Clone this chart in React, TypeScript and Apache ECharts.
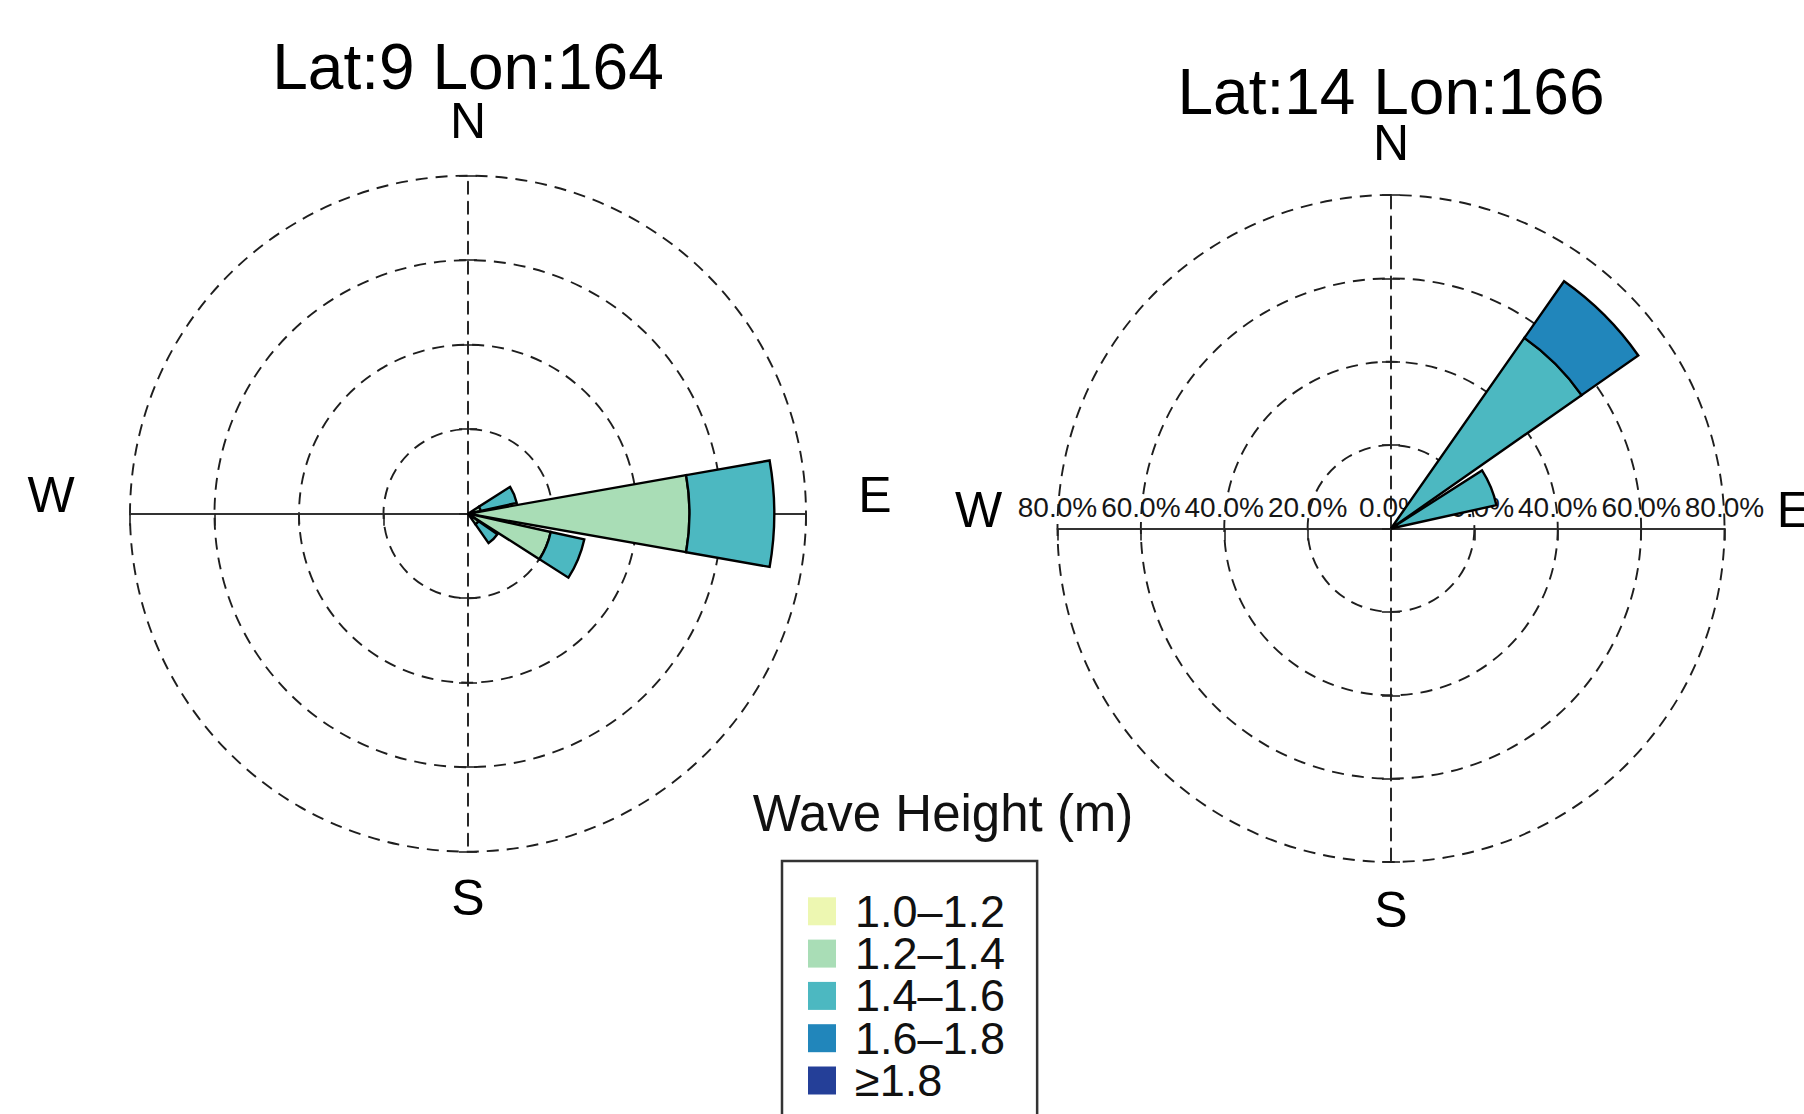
import React, { useEffect, useRef } from 'react';
import * as echarts from 'echarts';

// ---------------- data ----------------
const directions = ['N', 'NNE', 'NE', 'ENE', 'E', 'ESE', 'SE', 'SSE', 'S', 'SSW', 'SW', 'WSW', 'W', 'WNW', 'NW', 'NNW'];
const waveClasses = ['1.0\u20131.2', '1.2\u20131.4', '1.4\u20131.6', '1.6\u20131.8', '\u22651.8'];
const classColors = ['#EDF7B1', '#A9DDB6', '#4CB8C1', '#2186BB', '#243F98'];

const site1Title = 'Lat:9 Lon:164';
const site2Title = 'Lat:14 Lon:166';

// percent frequency per direction (N, NNE, ... NNW), one array per wave-height class
const site1H10 = [0, 0, 0, 0, 0, 0, 0, 0, 0, 0, 0, 0, 0, 0, 0, 0];
const site1H12 = [0, 0, 0, 2.5, 42.6, 16.3, 2.5, 0, 0, 0, 0, 0, 0, 0, 0, 0];
const site1H14 = [0, 0, 0, 7.1, 16.3, 6.6, 4.4, 0, 0, 0, 0, 0, 0, 0, 0, 0];
const site1H16 = [0, 0, 0, 0, 0, 0, 0, 0, 0, 0, 0, 0, 0, 0, 0, 0];
const site1H18 = [0, 0, 0, 0, 0, 0, 0, 0, 0, 0, 0, 0, 0, 0, 0, 0];

const site2H10 = [0, 0, 0, 0, 0, 0, 0, 0, 0, 0, 0, 0, 0, 0, 0, 0];
const site2H12 = [0, 0, 0, 0, 0, 0, 0, 0, 0, 0, 0, 0, 0, 0, 0, 0];
const site2H14 = [0, 0, 55.8, 25.9, 0, 0, 0, 0, 0, 0, 0, 0, 0, 0, 0, 0];
const site2H16 = [0, 0, 16.6, 0, 0, 0, 0, 0, 0, 0, 0, 0, 0, 0, 0, 0];
const site2H18 = [0, 0, 0, 0, 0, 0, 0, 0, 0, 0, 0, 0, 0, 0, 0, 0];

// radial scale (percent) and ring count
const site1Max = 65;
const site2Max = 80;
const ringCount = 4;

// ---------------- layout ----------------
const FONT = '"Liberation Sans", Arial, Helvetica, sans-serif';
const site1Center = [468, 513.7];
const site1Radius = 338;
const site2Center = [1391, 528.5];
const site2Radius = 333.5;

const dashed = [12, 8];
const gridColor = '#1e1e1e';
const pctFont = 28;

function buildOption() {
  const polar: any[] = [];
  const angleAxis: any[] = [];
  const radiusAxis: any[] = [];
  const series: any[] = [];
  const graphic: any[] = [];

  const addPolar = (center: number[], radius: number, aa: any, ra: any) => {
    const idx = polar.length;
    polar.push({ center, radius });
    angleAxis.push({ polarIndex: idx, ...aa });
    radiusAxis.push({ polarIndex: idx, ...ra });
    return idx;
  };

  const hiddenAngle = (startAngle: number) => ({
    type: 'value', min: 0, max: 360, startAngle, clockwise: false,
    axisLine: { show: false }, axisTick: { show: false }, axisLabel: { show: false },
    splitLine: { show: false }, splitArea: { show: false },
  });

  const fmt = (v: number) => v.toFixed(1) + '%';

  const buildRose = (
    k: number, center: number[], radius: number, max: number,
    values: number[][], showLabels: boolean, title: string, titleY: number,
    nY: number, sY: number
  ) => {
    const interval = max / ringCount;
    const main = addPolar(center, radius, {
      type: 'category', data: directions, startAngle: 90 + 180 / directions.length,
      clockwise: true, boundaryGap: true,
      axisLine: { show: false }, axisTick: { show: false }, axisLabel: { show: false },
      splitLine: { show: false }, splitArea: { show: false },
    }, {
      type: 'value', min: 0, max, interval,
      axisLine: { show: false }, axisTick: { show: false }, axisLabel: { show: false },
      splitLine: { show: true, lineStyle: { color: gridColor, width: 1.9, type: dashed } },
      splitArea: { show: false },
    });

    const baseRadius = (extra: any) => ({
      type: 'value', min: 0, max, interval, z: 1,
      splitLine: { show: false }, splitArea: { show: false },
      ...extra,
    });
    const solidLine = { show: true, lineStyle: { color: '#333', width: 2 } };
    const dashLine = { show: true, lineStyle: { color: gridColor, width: 1.9, type: dashed } };
    const tickStyle = { color: '#222', width: 1.6 };
    const labelStyle = (extra: any) => ({
      show: showLabels, fontSize: pctFont, fontFamily: FONT, color: '#161616',
      showMinLabel: true, showMaxLabel: true, hideOverlap: false, ...extra,
    });

    // east half of the horizontal axis (ticks turned downward, labels above)
    addPolar(center, radius, hiddenAngle(0), baseRadius({
      axisLine: solidLine,
      axisTick: { show: true, length: -12, lineStyle: tickStyle },
      axisLabel: labelStyle({ margin: 7, formatter: (v: number) => (v === 0 ? '' : fmt(v)) }),
    }));
    // west half of the horizontal axis (labels lifted above the line)
    addPolar(center, radius, hiddenAngle(180), baseRadius({
      axisLine: solidLine,
      axisTick: { show: true, length: 12, lineStyle: tickStyle },
      axisLabel: labelStyle({ margin: -(pctFont + 7), formatter: fmt }),
    }));
    // north / south dashed axis with small cross ticks
    [90, 270].forEach((ang) => {
      addPolar(center, radius, hiddenAngle(ang), baseRadius({
        axisLine: dashLine,
        axisTick: { show: true, length: 9, lineStyle: tickStyle },
        axisLabel: { show: false },
      }));
      addPolar(center, radius, hiddenAngle(ang), baseRadius({
        axisLine: { show: false },
        axisTick: { show: true, length: -9, lineStyle: tickStyle },
        axisLabel: { show: false },
      }));
    });

    waveClasses.forEach((name, c) => {
      series.push({
        type: 'bar', coordinateSystem: 'polar', polarIndex: main, name,
        stack: 'site' + k,
        data: values[c].map((v) => (v > 0 ? v : '-')),
        barCategoryGap: '11%',
        itemStyle: { color: classColors[c], borderColor: '#000', borderWidth: 2.4 },
        z: 5, silent: true,
      });
    });

    const cx = center[0];
    const cy = center[1];
    const txt = (text: string, x: number, y: number, size: number) => ({
      type: 'text', x, y, z: 10, silent: true,
      style: {
        text, fill: '#000', fontSize: size, fontFamily: FONT, lineHeight: Math.round(size * 0.78),
        align: 'center', verticalAlign: 'middle', textAlign: 'center', textVerticalAlign: 'middle',
      },
    });
    graphic.push(txt(title, cx, titleY, 64));
    graphic.push(txt('N', cx, nY, 50));
    graphic.push(txt('S', cx, sY, 50));
    graphic.push(txt('W', cx - radius - 79, cy - 18.5, 50));
    graphic.push(txt('E', cx + radius + 69, cy - 18.5, 50));
  };

  buildRose(1, site1Center, site1Radius, site1Max,
    [site1H10, site1H12, site1H14, site1H16, site1H18], false, site1Title, 66.7, 120.5, 898);
  buildRose(2, site2Center, site2Radius, site2Max,
    [site2H10, site2H12, site2H14, site2H16, site2H18], true, site2Title, 92, 143, 909.5);

  graphic.push({
    type: 'text', x: 943, y: 813.3, z: 10, silent: true,
    style: {
      text: 'Wave Height (m)', fill: '#111', fontSize: 51, fontFamily: FONT, lineHeight: 40,
      align: 'center', verticalAlign: 'middle', textAlign: 'center', textVerticalAlign: 'middle',
    },
  });

  return {
    animation: false,
    backgroundColor: '#fff',
    polar, angleAxis, radiusAxis, series, graphic,
    legend: {
      data: waveClasses, orient: 'vertical', left: 782, top: 861, height: 500,
      padding: [27.8, 32, 40, 26], itemWidth: 28, itemHeight: 28, itemGap: -2.7,
      borderColor: '#333', borderWidth: 2.5, backgroundColor: '#fff',
      icon: 'rect', selectedMode: false,
      itemStyle: { borderWidth: 0 },
      textStyle: { fontSize: 45, fontFamily: FONT, color: '#111', padding: [0, 0, 0, 14] },
    },
  };
}

export default function App() {
  const ref = useRef<HTMLDivElement>(null);
  useEffect(() => {
    document.body.style.margin = '0';
    const chart = echarts.init(ref.current as HTMLDivElement, null, { renderer: 'svg' });
    chart.setOption(buildOption() as any);
    return () => chart.dispose();
  }, []);
  return <div ref={ref} style={{ width: 1804, height: 1114, position: 'absolute', left: 0, top: 0 }} />;
}
